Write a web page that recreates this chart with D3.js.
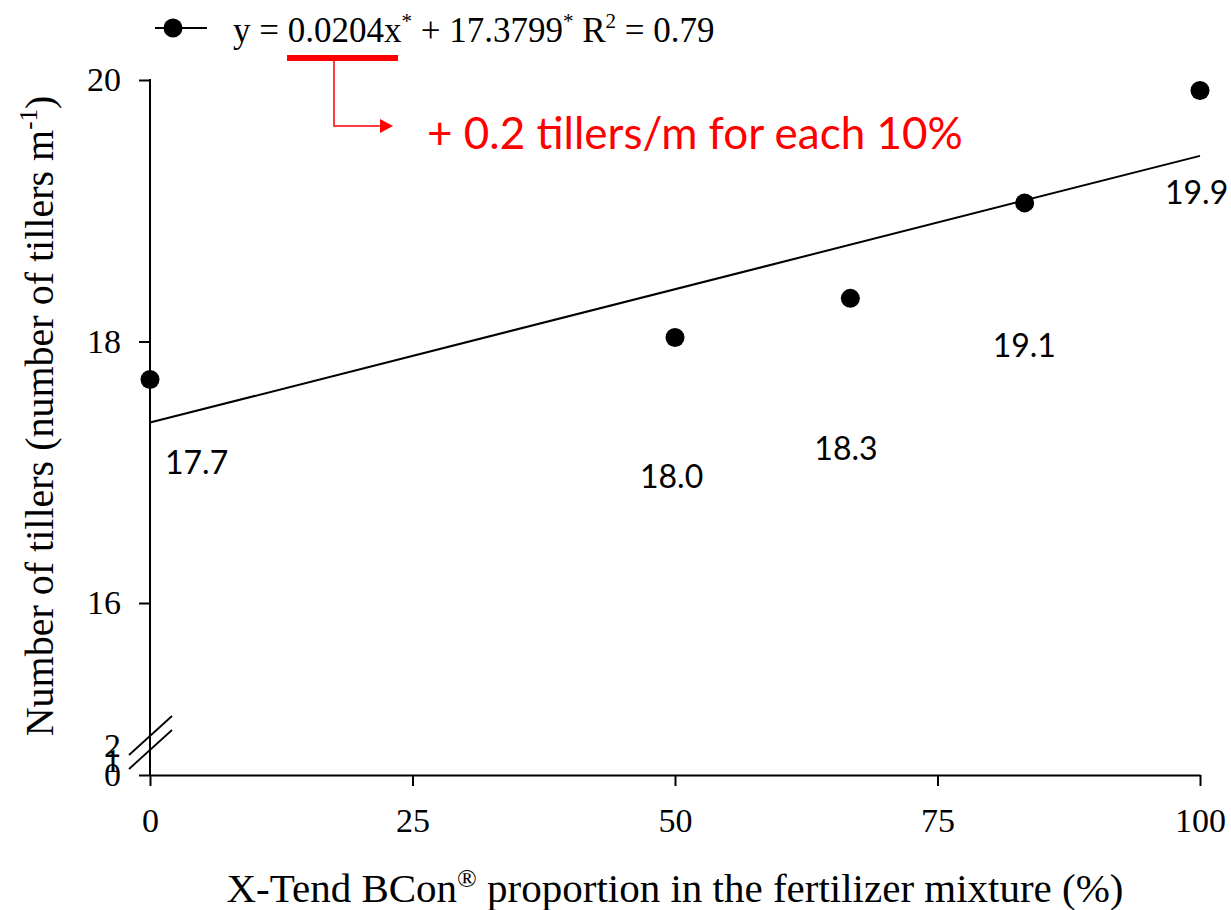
<!DOCTYPE html>
<html>
<head>
<meta charset="utf-8">
<script src="https://cdn.jsdelivr.net/npm/d3@7"></script>
<style>
  body { margin: 0; background: #fff; }
</style>
</head>
<body>
<script>
var proportions = [0, 50, 66.7, 83.3, 100];
var tillers = [17.71, 18.03, 18.33, 19.06, 19.92];
var pointLabels = ["17.7", "18.0", "18.3", "19.1", "19.9"];
var xTicks = [0, 25, 50, 75, 100];
var yTicksUpper = [16, 18, 20];
var yTicksLower = [0, 1, 2];
var fitSlope = 0.0204;
var fitIntercept = 17.3799;

// where each value label sits relative to its point (px)
var labelOffsets = [[15, 95], [-35, 150], [-36, 162], [-32, 154], [-35, 114]];

var svgWidth = 1231;
var svgHeight = 910;
var serif = "'Liberation Serif', 'Times New Roman', serif";
var sans = "Lato, 'Open Sans', sans-serif";

var svg = d3.select("body")
  .append("svg")
  .attr("width", svgWidth)
  .attr("height", svgHeight)
  .style("background", "#fff");

var x = d3.scaleLinear().domain([0, 100]).range([150, 1200]);
// broken y axis: upper part 16-20, lower stub 0-2
var yUp = d3.scaleLinear().domain([16, 20]).range([603, 80]);
var yLow = d3.scaleLinear().domain([0, 2]).range([775, 746]);

function styleAxis(g) {
  g.attr("font-family", serif).attr("font-size", 34);
  g.selectAll("line, path").attr("stroke", "#000").attr("stroke-width", 2);
  g.selectAll("text").attr("fill", "#000");
}

// x axis
svg.append("g")
  .attr("transform", `translate(0, ${yLow(0)})`)
  .call(d3.axisBottom(x).tickValues(xTicks).tickSize(11).tickSizeOuter(0).tickPadding(22))
  .call(styleAxis);

// y axis line through the break
svg.append("line")
  .attr("x1", x(0)).attr("x2", x(0))
  .attr("y1", yUp(20) - 1).attr("y2", yLow(0))
  .attr("stroke", "#000").attr("stroke-width", 2);

svg.append("g")
  .attr("transform", `translate(${x(0)}, 0)`)
  .call(d3.axisLeft(yUp).tickValues(yTicksUpper).tickFormat(d3.format("d")).tickSize(11).tickPadding(18))
  .call(styleAxis)
  .call(g => g.select(".domain").remove());

svg.append("g")
  .attr("transform", `translate(${x(0)}, 0)`)
  .call(d3.axisLeft(yLow).tickValues(yTicksLower).tickFormat(d3.format("d")).tickSize(11).tickPadding(18))
  .call(styleAxis)
  .call(g => g.select(".domain").remove())
  .call(g => g.selectAll(".tick").filter(d => d !== 0).select("line").remove());

// break marks
[0, 14].forEach(function(off) {
  svg.append("line")
    .attr("x1", x(0) - 21).attr("y1", 755 + off)
    .attr("x2", x(0) + 22).attr("y2", 716 + off)
    .attr("stroke", "#000").attr("stroke-width", 1.8);
});

// fitted line
var fitLine = d3.line()
  .x(d => x(d))
  .y(d => yUp(fitSlope * d + fitIntercept));

svg.append("path")
  .datum([0, 100])
  .attr("d", fitLine)
  .attr("fill", "none")
  .attr("stroke", "#000")
  .attr("stroke-width", 2);

// points
svg.selectAll(".dot")
  .data(proportions)
  .enter()
  .append("circle")
  .attr("class", "dot")
  .attr("cx", d => x(d))
  .attr("cy", (d, i) => yUp(tillers[i]))
  .attr("r", 9.5)
  .attr("fill", "#000");

svg.selectAll(".val")
  .data(pointLabels)
  .enter()
  .append("text")
  .attr("class", "val")
  .attr("x", (d, i) => x(proportions[i]) + labelOffsets[i][0])
  .attr("y", (d, i) => yUp(tillers[i]) + labelOffsets[i][1])
  .attr("font-family", sans)
  .attr("font-size", 32)
  .text(d => d);

// axis titles
var xTitle = svg.append("text")
  .attr("x", (x(0) + x(100)) / 2)
  .attr("y", 902)
  .attr("text-anchor", "middle")
  .attr("font-family", serif)
  .attr("font-size", 41);
xTitle.append("tspan").text("X-Tend BCon");
xTitle.append("tspan").attr("font-size", 26).attr("dy", -15).text("®");
xTitle.append("tspan").attr("dy", 15).text(" proportion in the fertilizer mixture (%)");

var yTitle = svg.append("text")
  .attr("transform", "translate(53, 416) rotate(-90)")
  .attr("text-anchor", "middle")
  .attr("font-family", serif)
  .attr("font-size", 40);
yTitle.append("tspan").text("Number of tillers (number of tillers m");
yTitle.append("tspan").attr("font-size", 25).attr("dy", -16).text("-1");
yTitle.append("tspan").attr("dy", 16).text(")");

// legend
svg.append("line")
  .attr("x1", 155).attr("x2", 207)
  .attr("y1", 28).attr("y2", 28)
  .attr("stroke", "#000").attr("stroke-width", 2);
svg.append("circle")
  .attr("cx", 173).attr("cy", 28).attr("r", 9.5)
  .attr("fill", "#000");

var eq = svg.append("text")
  .attr("x", 233)
  .attr("y", 42)
  .attr("font-family", serif)
  .attr("font-size", 35);
eq.append("tspan").text("y = 0.0204x");
eq.append("tspan").attr("font-size", 21).attr("dy", -14).text("*");
eq.append("tspan").attr("dy", 14).text(" + 17.3799");
eq.append("tspan").attr("font-size", 21).attr("dy", -14).text("*");
eq.append("tspan").attr("dy", 14).text(" R");
eq.append("tspan").attr("font-size", 21).attr("dy", -14).text("2");
eq.append("tspan").attr("dy", 14).text(" = 0.79");

// red annotation
var red = "#ff0000";
svg.append("rect")
  .attr("x", 287).attr("y", 55)
  .attr("width", 111).attr("height", 6)
  .attr("fill", red);
svg.append("path")
  .attr("d", "M334,61 V126 H381")
  .attr("fill", "none")
  .attr("stroke", red)
  .attr("stroke-width", 1.5);
svg.append("path")
  .attr("d", "M380,119 L393,126 L380,133 Z")
  .attr("fill", red);
svg.append("text")
  .attr("x", 427)
  .attr("y", 149)
  .attr("font-family", sans)
  .attr("font-size", 44)
  .attr("fill", red)
  .text("+ 0.2 tillers/m for each 10%");
</script>
</body>
</html>
